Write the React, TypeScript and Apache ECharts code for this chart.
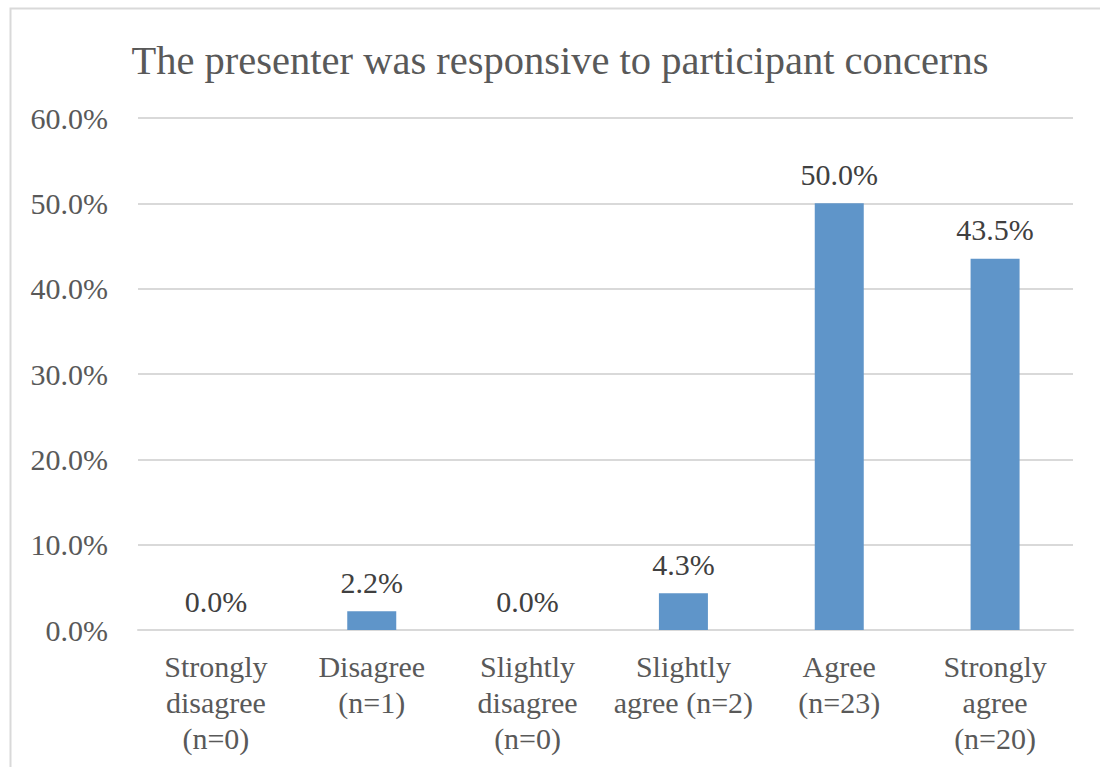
import React, { useEffect, useRef } from "react";
import * as echarts from "echarts";

const categories = [
  "Strongly\ndisagree\n(n=0)",
  "Disagree\n(n=1)",
  "Slightly\ndisagree\n(n=0)",
  "Slightly\nagree (n=2)",
  "Agree\n(n=23)",
  "Strongly\nagree\n(n=20)",
];
const percentages = [0.0, 2.2, 0.0, 4.3, 50.0, 43.5];
const titleText = "The presenter was responsive to participant concerns";

const FONT = "'Liberation Serif', 'DejaVu Serif', serif";
const TEXT = "#595959";

export default function App() {
  const ref = useRef<HTMLDivElement>(null);

  useEffect(() => {
    if (!ref.current) return;
    const chart = echarts.init(ref.current, undefined, { renderer: "svg" });
    chart.setOption({
      animation: false,
      backgroundColor: "#ffffff",
      title: {
        text: titleText,
        left: 555,
        top: 35,
        textAlign: "center",
        textStyle: { fontFamily: FONT, fontSize: 40.5, fontWeight: "normal", color: TEXT },
      },
      graphic: [
        {
          type: "rect",
          shape: { x: 10.5, y: 8.5, width: 1100, height: 770 },
          style: { fill: "none", stroke: "#d9d9d9", lineWidth: 2 },
          silent: true,
        },
      ],
      grid: { left: 138, right: 27, top: 118, bottom: 137 },
      xAxis: {
        type: "category",
        data: categories,
        axisTick: { show: false },
        axisLine: { lineStyle: { color: "#d9d9d9", width: 2 } },
        axisLabel: {
          interval: 0,
          fontFamily: FONT,
          fontSize: 30,
          lineHeight: 36,
          color: TEXT,
          margin: 18,
        },
      },
      yAxis: {
        type: "value",
        min: 0,
        max: 60,
        interval: 10,
        axisLine: { show: false },
        axisTick: { show: false },
        splitLine: { lineStyle: { color: "#d9d9d9", width: 2 } },
        axisLabel: {
          fontFamily: FONT,
          fontSize: 30,
          color: TEXT,
          margin: 30,
          formatter: (v: number) => `${v.toFixed(1)}%`,
        },
      },
      series: [
        {
          type: "bar",
          data: percentages,
          barWidth: 49,
          itemStyle: { color: "#5f95c9" },
          label: {
            show: true,
            position: "top",
            distance: 14,
            fontFamily: FONT,
            fontSize: 30,
            color: "#404040",
            formatter: (p: any) => `${Number(p.value).toFixed(1)}%`,
          },
        },
      ],
    });
    return () => chart.dispose();
  }, []);

  return (
    <div
      ref={ref}
      style={{ position: "fixed", left: 0, top: 0, width: 1100, height: 767 }}
    />
  );
}
